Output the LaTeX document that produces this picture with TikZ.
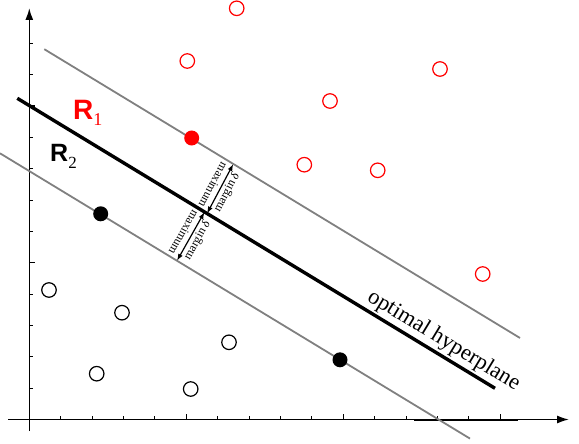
\documentclass[tikz,border=0pt]{standalone}
\usepackage{fontspec}
\setmainfont{Liberation Serif}
\newfontfamily\labsans{Liberation Sans}
\usetikzlibrary{arrows.meta}
\definecolor{mgray}{RGB}{128,128,128}
\definecolor{pred}{RGB}{255,0,0}
\begin{document}
\begin{tikzpicture}[x=1pt,y=-1pt,
  axisline/.style={line width=1.6pt,-{Latex[length=12pt,width=8pt]}},
  axtick/.style={line width=1.1pt},
  marginline/.style={draw=mgray,line width=1.8pt},
  hyperline/.style={draw=black,line width=3.4pt},
  openpt/.style={circle,draw=black,line width=1.2pt,fill=white,minimum size=14.5pt,inner sep=0pt},
  redopen/.style={openpt,draw=pred},
  svpt/.style={circle,fill=black,minimum size=15pt,inner sep=0pt},
  redsv/.style={svpt,fill=pred},
  marrow/.style={line width=1.2pt,{Latex[length=7pt,width=5pt]}-{Latex[length=7pt,width=5pt]}},
  mtext/.style={inner sep=0pt,font=\fontsize{12}{12}\selectfont}
]
\useasboundingbox (0,0) rectangle (579,444);

% axes
\coordinate (xs) at (8,419.5);
\coordinate (xe) at (569,419.5);
\coordinate (ys) at (29.3,431);
\coordinate (ye) at (29.3,8);
\draw[axisline] (xs) -- (xe);
\draw[axisline] (ys) -- (ye);
\draw[line width=2.0pt] (414,419.5) -- (518,419.5);
\foreach \k in {1,2,3,4,6,7,8,9,11,12,13,14}
  \draw[axtick] ({29.3+31.4*\k},419.5) -- ++(0,-3.5);
\foreach \k in {5,10,15}
  \draw[axtick] ({29.3+31.4*\k},419.5) -- ++(0,-6);
\foreach \k in {1,2,3,4,6,7,8,9,11,12}
  \draw[axtick] (29.3,{419.5-31.35*\k}) -- ++(3.5,0);
\foreach \k in {5,10}
  \draw[axtick] (29.3,{419.5-31.35*\k}) -- ++(6,0);

% lines
\coordinate (uA) at (44.3,49.2);
\coordinate (uB) at (520,338);
\coordinate (lA) at (0,153.3);
\coordinate (lB) at (470,438.6);
\coordinate (hA) at (17.3,98.3);
\coordinate (hB) at (495,388.3);
\draw[marginline] (uA) -- (uB);
\draw[marginline] (lA) -- (lB);
\draw[hyperline] (hA) -- (hB);

\node[anchor=south west,rotate=-31.3,inner sep=0pt,font=\fontsize{22.5}{22.5}\selectfont] (hyp) at (363.6,304.4) {optimal hyperplane};

% margin arrows
\coordinate (m1a) at (207,213.5);
\coordinate (m1b) at (233.3,164);
\coordinate (m2a) at (204.5,212);
\coordinate (m2b) at (177,260.8);
\draw[marrow] (m1a) -- (m1b);
\draw[marrow] (m2a) -- (m2b);
\node[mtext,rotate=-118] (mx1) at (213.3,185.1) {maximum};
\node[mtext,rotate=62] (mg1) at (227.0,192.4) {margin \textit{δ}};
\node[mtext,rotate=-119.4] (mx2) at (184.0,232.6) {maximum};
\node[mtext,rotate=60.6] (mg2) at (197.5,240.2) {margin \textit{δ}};

% red class
\node[redopen] (r1) at (236.7,8.3) {};
\node[redopen] (r2) at (187.3,61) {};
\node[redopen] (r3) at (440,69) {};
\node[redopen] (r4) at (330,101) {};
\node[redopen] (r5) at (304.3,164.7) {};
\node[redopen] (r6) at (377.7,170.3) {};
\node[redopen] (r7) at (482.7,274) {};
\node[redsv] (rs) at (191.7,138) {};

% black class
\node[openpt] (b1) at (49,290) {};
\node[openpt] (b2) at (122,312.7) {};
\node[openpt] (b3) at (96.7,373.7) {};
\node[openpt] (b4) at (229,342.3) {};
\node[openpt] (b5) at (190.7,389) {};
\node[svpt] (bs1) at (100.7,213.8) {};
\node[svpt] (bs2) at (340,359.8) {};

% region labels
\node[anchor=base west,inner sep=0pt,text=pred] (R1) at (73,119.3)
  {{\labsans\bfseries\fontsize{28}{28}\selectfont R}\raisebox{-6pt}{\fontsize{18}{18}\selectfont 1}};
\node[anchor=base west,inner sep=0pt,text=black] (R2) at (50,161.7)
  {{\labsans\bfseries\fontsize{25}{25}\selectfont R}\raisebox{-6.6pt}{\fontsize{17}{17}\selectfont 2}};
\end{tikzpicture}
\end{document}
